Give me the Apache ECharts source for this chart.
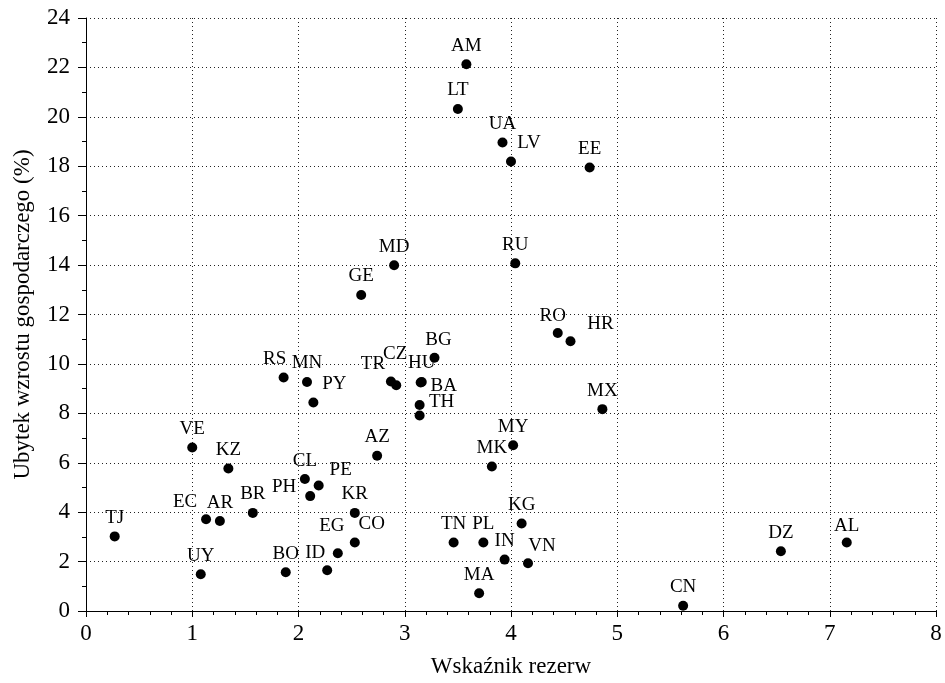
<!DOCTYPE html>
<html lang="pl">
<head>
  <meta charset="UTF-8" />
  <title>Wskaźnik rezerw</title>
  <script src="https://cdn.jsdelivr.net/npm/echarts@6.0.0/dist/echarts.min.js"></script>
  <style>
    html, body { margin: 0; padding: 0; background: #fff; }
  </style>
</head>
<body>
  <div id="main" style="width: 945px; height: 683px;"></div>
  <script type="text/javascript">
    // dane: kraj, wskaźnik rezerw (x), ubytek wzrostu (y)
    const countries = ['AM', 'LT', 'UA', 'LV', 'EE', 'MD', 'GE', 'RU', 'RO', 'HR',
      'BG', 'MX', 'RS', 'MN', 'PY', 'TR', 'CZ', 'HU', 'BA', 'TH', '',
      'VE', 'KZ', 'AZ', 'CL', 'PE', 'PH', 'KR', 'BR', 'EC', 'AR', 'TJ',
      'CO', 'EG', 'ID', 'BO', 'UY', 'TN', 'PL', 'MA', 'MK', 'MY', 'KG',
      'IN', 'VN', 'DZ', 'AL', 'CN'];
    const reserves = [3.58, 3.50, 3.92, 4.00, 4.74, 2.90, 2.59, 4.04, 4.44, 4.56,
      3.28, 4.86, 1.86, 2.08, 2.14, 2.87, 2.92, 3.16, 3.15, 3.14, 3.14,
      1.00, 1.34, 2.74, 2.06, 2.19, 2.11, 2.53, 1.57, 1.13, 1.26, 0.27,
      2.53, 2.37, 2.27, 1.88, 1.08, 3.46, 3.74, 3.70, 3.82, 4.02, 4.10,
      3.94, 4.16, 6.54, 7.16, 5.62];
    const growthLoss = [22.13, 20.32, 18.96, 18.19, 17.95, 13.99, 12.79, 14.07, 11.25, 10.92,
      10.25, 8.17, 9.45, 9.27, 8.44, 9.29, 9.14, 9.27, 9.25, 8.34, 7.91,
      6.62, 5.77, 6.28, 5.34, 5.08, 4.65, 3.97, 3.97, 3.71, 3.64, 3.02,
      2.77, 2.34, 1.65, 1.57, 1.49, 2.77, 2.77, 0.72, 5.85, 6.71, 3.54,
      2.08, 1.93, 2.42, 2.77, 0.21];

    // przesunięcia etykiet względem pozycji "top"
    const labelShift = {
      LV: [18, 0], HR: [30, 1], RS: [-9, 0], TR: [-18, 1], CZ: [-1, -13],
      PY: [21, 0], BA: [23, 22], TH: [22, 16], PE: [22, 3], PH: [-26, 9],
      EC: [-21, 1], ID: [-12, 1], EG: [-6, -9], CO: [17, 0], VN: [14, 1],
      RO: [-5, 1], BG: [4, 1], AL: [0, 2]
    };

    const points = countries.map(function (c, i) {
      const item = { name: c, value: [reserves[i], growthLoss[i]] };
      if (labelShift[c]) item.label = { offset: labelShift[c] };
      return item;
    });

    const serif = 'Liberation Serif';
    const chart = echarts.init(document.getElementById('main'));
    chart.setOption({
      animation: false,
      backgroundColor: '#fff',
      grid: { left: 86, right: 9, top: 18, bottom: 71 },
      xAxis: {
        type: 'value',
        min: 0, max: 8, interval: 1,
        name: 'Wskaźnik rezerw',
        nameLocation: 'middle',
        nameGap: 44,
        nameTextStyle: { fontFamily: serif, fontSize: 23, color: '#000' },
        axisLine: { lineStyle: { color: '#000', width: 1 } },
        axisTick: { length: 6, lineStyle: { color: '#000' } },
        minorTick: { show: true, splitNumber: 5, length: 4, lineStyle: { color: '#000' } },
        axisLabel: { fontFamily: serif, fontSize: 23, color: '#000', margin: 11 },
        splitLine: { show: true, lineStyle: { color: '#222', type: [1, 3], width: 1 } }
      },
      yAxis: {
        type: 'value',
        min: 0, max: 24, interval: 2,
        name: 'Ubytek wzrostu gospodarczego (%)',
        nameLocation: 'middle',
        nameGap: 52,
        nameTextStyle: { fontFamily: serif, fontSize: 23, color: '#000' },
        axisLine: { show: true, lineStyle: { color: '#000', width: 1 } },
        axisTick: { show: true, length: 8, lineStyle: { color: '#000' } },
        minorTick: { show: true, splitNumber: 2, length: 4, lineStyle: { color: '#000' } },
        axisLabel: { fontFamily: serif, fontSize: 23, color: '#000', margin: 16 },
        splitLine: { show: true, lineStyle: { color: '#222', type: [1, 3], width: 1 } }
      },
      series: [{
        type: 'scatter',
        symbol: 'circle',
        symbolSize: 10,
        itemStyle: { color: '#000', opacity: 1 },
        label: {
          show: true,
          position: 'top',
          distance: 4,
          formatter: '{b}',
          fontFamily: serif,
          fontSize: 19,
          color: '#000'
        },
        data: points
      }]
    });
  </script>
</body>
</html>
